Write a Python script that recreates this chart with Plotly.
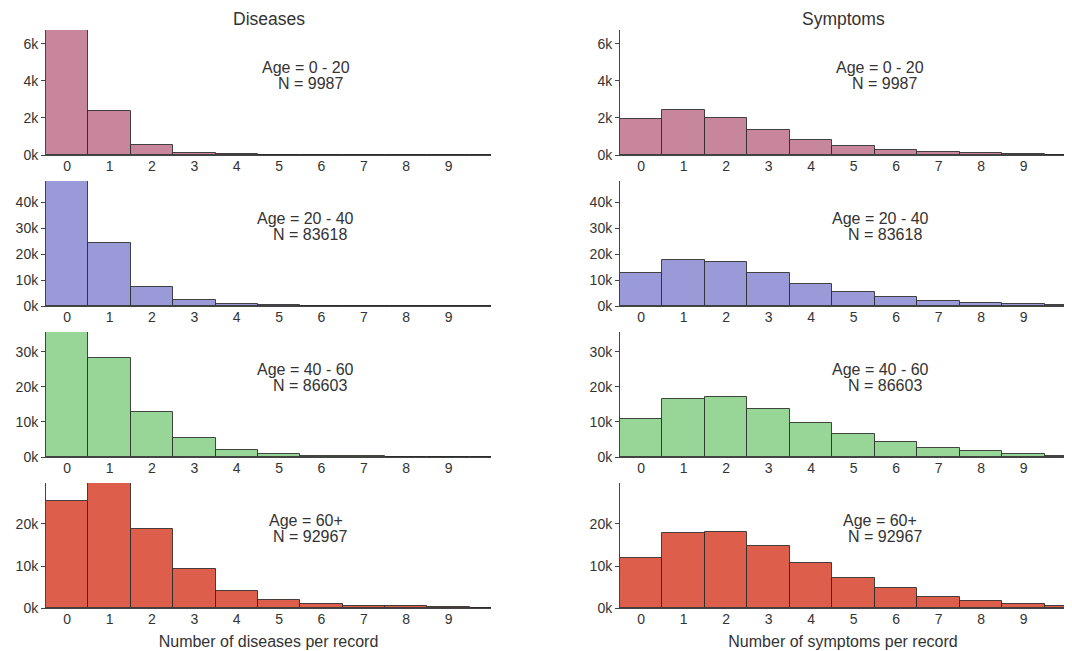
import plotly.graph_objects as go

bins = [0, 1, 2, 3, 4, 5, 6, 7, 8, 9, 10]
x_tick_vals = [0, 1, 2, 3, 4, 5, 6, 7, 8, 9]
x_tick_text = ["0", "1", "2", "3", "4", "5", "6", "7", "8", "9"]

age_groups = ["0 - 20", "20 - 40", "40 - 60", "60+"]
group_n = [9987, 83618, 86603, 92967]

diseases_0_20 = [6750, 2400, 540, 120, 30, 10, 5, 3, 2, 1, 1]
diseases_20_40 = [48200, 24200, 7400, 2300, 650, 220, 90, 40, 20, 10, 5]
diseases_40_60 = [35700, 28200, 12950, 5300, 2000, 750, 320, 150, 70, 35, 20]
diseases_60p = [25400, 29760, 18900, 9350, 4050, 1980, 1020, 560, 380, 240, 120]

symptoms_0_20 = [1930, 2450, 2020, 1370, 810, 490, 280, 160, 90, 45, 20]
symptoms_20_40 = [12540, 17690, 16920, 12690, 8580, 5500, 3460, 2040, 1150, 620, 280]
symptoms_40_60 = [10940, 16570, 17140, 13600, 9600, 6570, 4170, 2570, 1600, 860, 420]
symptoms_60p = [11980, 17860, 18170, 14760, 10620, 7210, 4670, 2690, 1670, 860, 480]

row_ymax = [6750, 48200, 35700, 29760]
y_tick_vals = [
    [0, 2000, 4000, 6000],
    [0, 10000, 20000, 30000, 40000],
    [0, 10000, 20000, 30000],
    [0, 10000, 20000],
]
y_tick_text = [
    ["0k", "2k", "4k", "6k"],
    ["0k", "10k", "20k", "30k", "40k"],
    ["0k", "10k", "20k", "30k"],
    ["0k", "10k", "20k"],
]
row_colors = ["#c8869c", "#9a9ad8", "#97d697", "#dd5e4b"]
col_titles = ["Diseases", "Symptoms"]
x_titles = ["Number of diseases per record", "Number of symptoms per record"]

disease_rows = [diseases_0_20, diseases_20_40, diseases_40_60, diseases_60p]
symptom_rows = [symptoms_0_20, symptoms_20_40, symptoms_40_60, symptoms_60p]

# page offset (body margin) compensation
OX, OY = 8, 8
W, H = 1064, 643
col_px = [(46, 491), (620, 1066)]
row_px = [(30, 155), (181, 306), (332, 457), (483, 608)]


def fx(px):
    return (px - OX) / W


def fy(px):
    return 1 - (px - OY) / H


FONT = "Liberation Sans, Arial, sans-serif"
TXT = "#333333"

fig = go.Figure()
layout = {}
annotations = []

idx = 0
for r in range(4):
    for c in range(2):
        idx += 1
        xa = "x" if idx == 1 else f"x{idx}"
        ya = "y" if idx == 1 else f"y{idx}"
        vals = disease_rows[r] if c == 0 else symptom_rows[r]
        fig.add_trace(go.Bar(
            x=bins, y=vals, width=1.0,
            marker=dict(color=row_colors[r], line=dict(color="rgba(40,40,40,0.85)", width=1)),
            xaxis=xa, yaxis=ya, showlegend=False, hoverinfo="x+y",
        ))
        x0, x1 = col_px[c]
        y0, y1 = row_px[r]
        layout["xaxis" if idx == 1 else f"xaxis{idx}"] = dict(
            domain=[fx(x0), fx(x1)], anchor=ya, range=[-0.5, 10], automargin=False,
            tickvals=x_tick_vals, ticktext=x_tick_text,
            showgrid=False, zeroline=False, showline=True, linecolor="#444444", linewidth=1,
            ticks="", ticklabelstandoff=-2,
            tickfont=dict(family=FONT, size=14, color=TXT),
            title=dict(text=x_titles[c], font=dict(family=FONT, size=16, color=TXT), standoff=10) if r == 3 else None,
        )
        layout["yaxis" if idx == 1 else f"yaxis{idx}"] = dict(
            domain=[fy(y1), fy(y0)], anchor=xa, range=[0, row_ymax[r]], automargin=False,
            tickvals=y_tick_vals[r], ticktext=y_tick_text[r],
            showgrid=False, zeroline=False, showline=True, linecolor="#444444", linewidth=1,
            ticks="outside", ticklen=4, tickcolor="#444444",
            tickfont=dict(family=FONT, size=14, color=TXT),
        )
        annotations.append(dict(
            x=5.63, y=0.70, xref=xa, yref=f"{ya} domain",
            text=f"Age = {age_groups[r]}",
            showarrow=False, xanchor="center", yanchor="middle",
            font=dict(family=FONT, size=16, color=TXT),
        ))
        annotations.append(dict(
            x=5.73, y=0.57, xref=xa, yref=f"{ya} domain",
            text=f"N = {group_n[r]}",
            showarrow=False, xanchor="center", yanchor="middle",
            font=dict(family=FONT, size=16, color=TXT),
        ))

for c in range(2):
    x0, x1 = col_px[c]
    annotations.append(dict(
        x=(fx(x0) + fx(x1)) / 2, y=fy(19), xref="paper", yref="paper",
        text=col_titles[c], showarrow=False, xanchor="center", yanchor="middle",
        font=dict(family=FONT, size=17.5, color=TXT),
    ))

fig.update_layout(
    width=W, height=H,
    margin=dict(l=0, r=0, t=0, b=0),
    paper_bgcolor="white", plot_bgcolor="white",
    bargap=0, annotations=annotations,
    **layout,
)

fig.write_html("out.html")
